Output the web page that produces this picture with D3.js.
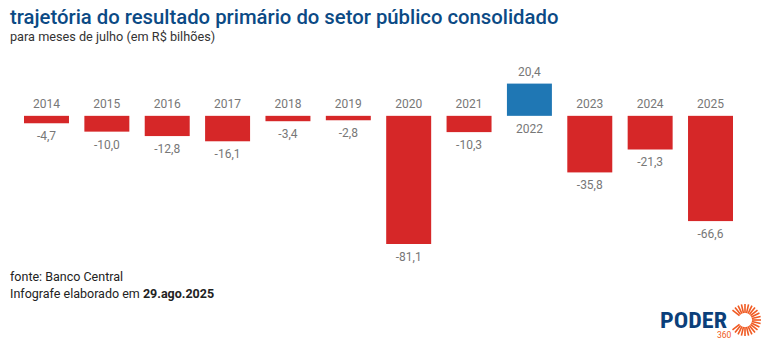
<!DOCTYPE html>
<html><head><meta charset="utf-8">
<script src="https://cdn.jsdelivr.net/npm/d3@7"></script>
<style>
body{margin:0;background:#fff;}
svg{display:block;font-family:Roboto, "Noto Sans", sans-serif;}
</style></head>
<body><svg id="c" width="770" height="356"></svg>
<script>
const years = ["2014","2015","2016","2017","2018","2019","2020","2021","2022","2023","2024","2025"];
const values = [-4.7,-10.0,-12.8,-16.1,-3.4,-2.8,-81.1,-10.3,20.4,-35.8,-21.3,-66.6];

const svg = d3.select("#c");
const fmt = v => d3.format(".1f")(v).replace(".", ",").replace("−","-");

svg.append("text").attr("x",10).attr("y",24).attr("font-size",20.3).attr("font-weight",500)
  .attr("fill","#0b4a85").text("trajetória do resultado primário do setor público consolidado");
svg.append("text").attr("x",10).attr("y",41).attr("font-size",12.7).attr("fill","#333")
  .text("para meses de julho (em R$ bilhões)");

const x = d3.scaleBand().domain(years).range([24,733]).paddingInner(0.255).paddingOuter(0);
const y = d3.scaleLinear().domain([-81.1,20.4]).range([244,83.6]);
const y0 = y(0);

const g = svg.append("g");
g.selectAll("rect").data(years).join("rect")
  .attr("x", d=>x(d)).attr("width", x.bandwidth())
  .attr("y", (d,i)=> values[i] >= 0 ? y(values[i]) : y0)
  .attr("height", (d,i)=> Math.abs(y(values[i]) - y0))
  .attr("fill", (d,i)=> values[i] >= 0 ? "#1f77b4" : "#d62728");

g.selectAll("text.yr").data(years).join("text").attr("class","yr")
  .attr("x", d=>x(d)+x.bandwidth()/2)
  .attr("y", (d,i)=> values[i] >= 0 ? y0+17 : y0-8)
  .attr("text-anchor","middle").attr("font-size",12).attr("fill","#777").text(d=>d);

g.selectAll("text.val").data(years).join("text").attr("class","val")
  .attr("x", d=>x(d)+x.bandwidth()/2)
  .attr("y", (d,i)=> values[i] >= 0 ? y(values[i])-8 : y(values[i])+17)
  .attr("text-anchor","middle").attr("font-size",12).attr("fill","#777").text((d,i)=>fmt(values[i]));

svg.append("text").attr("x",10).attr("y",281).attr("font-size",12.5).attr("fill","#222").text("fonte: Banco Central");
const t2 = svg.append("text").attr("x",10).attr("y",298).attr("font-size",12.5).attr("fill","#222");
t2.append("tspan").text("Infografe elaborado em ");
t2.append("tspan").attr("font-weight",700).text("29.ago.2025");

// logo
const lg = svg.append("g");
lg.append("text").attr("x",660).attr("y",327.5).attr("font-size",22).attr("font-weight",700)
  .attr("font-family","'Roboto Condensed', 'Liberation Sans Narrow', Roboto, sans-serif")
  .attr("textLength",67).attr("lengthAdjust","spacingAndGlyphs")
  .attr("fill","#0b3f7a").text("PODER");
lg.append("text").attr("x",717).attr("y",338).attr("font-size",8.5).attr("fill","#f05a22").text("360");
const cx=745, cy=320;
d3.range(28).forEach(i=>{
  const a = i/28*2*Math.PI;
  if (Math.cos(a) < -0.85) return;
  lg.append("line").attr("x1",cx+7*Math.cos(a)).attr("y1",cy+7*Math.sin(a))
    .attr("x2",cx+16*Math.cos(a)).attr("y2",cy+16*Math.sin(a))
    .attr("stroke","#f05a22").attr("stroke-width",1.6);
});
</script></body></html>
